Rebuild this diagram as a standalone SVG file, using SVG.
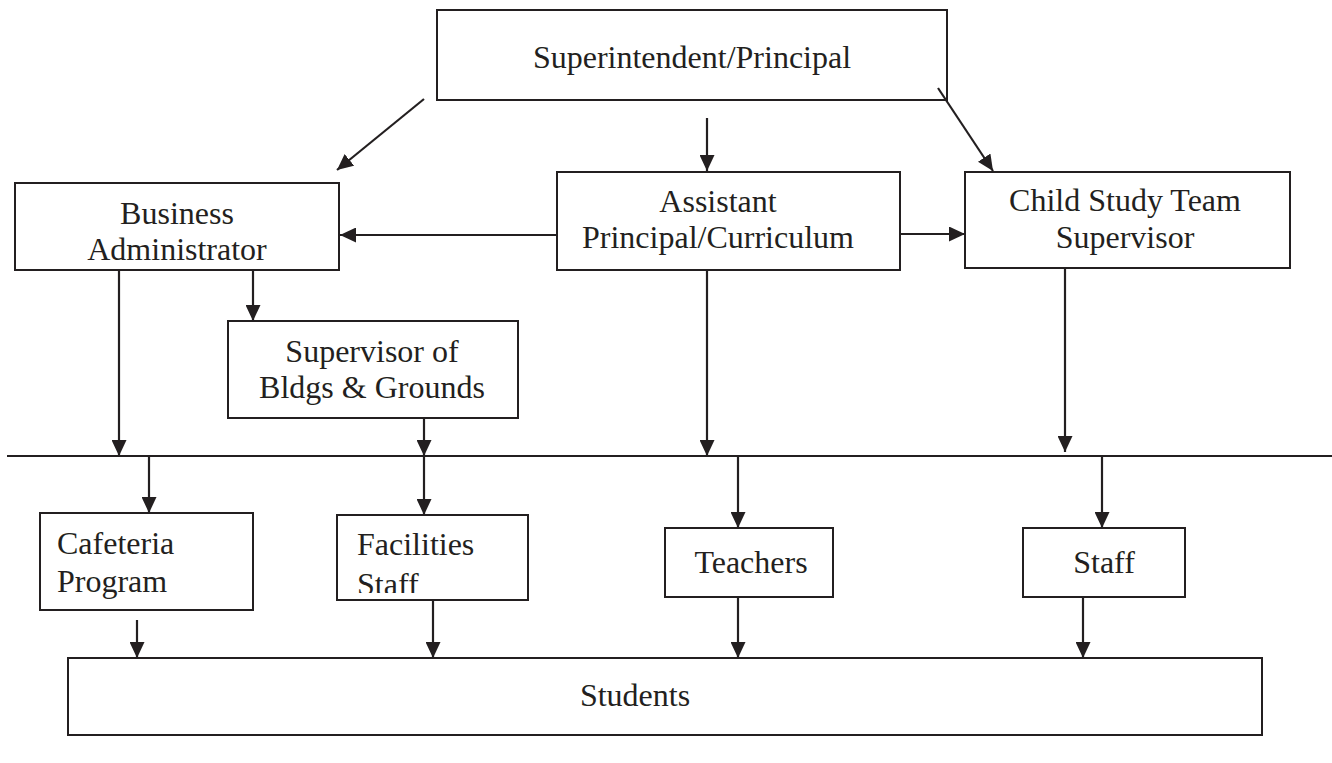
<svg xmlns="http://www.w3.org/2000/svg" width="1332" height="763" viewBox="0 0 1332 763">
<style>
.box{fill:#fff;stroke:#231f20;stroke-width:2}
.t{font-family:"Liberation Serif","Times New Roman",serif;font-size:32px;fill:#231f20}
.c{text-anchor:middle}
.ln{stroke:#231f20;stroke-width:2.2;fill:none}
.ar{marker-end:url(#ah)}
</style>
<defs>
<marker id="ah" markerUnits="userSpaceOnUse" markerWidth="17" markerHeight="15" refX="16" refY="7.5" orient="auto">
<path d="M0,0 L16,7.5 L0,15 z" fill="#231f20"/>
</marker>
<clipPath id="facclip"><rect x="338" y="516" width="189" height="77"/></clipPath>
</defs>
<rect width="1332" height="763" fill="#fff"/>
<g id="superintendent">
<rect class="box" x="437" y="10" width="510" height="90"/>
<text class="t c" x="692" y="68">Superintendent/Principal</text>
</g>
<g id="business">
<rect class="box" x="15" y="183" width="324" height="87"/>
<text class="t c" x="177" y="224">Business</text>
<text class="t c" x="177" y="260">Administrator</text>
</g>
<g id="assistant">
<rect class="box" x="557" y="172" width="343" height="98"/>
<text class="t c" x="718" y="212">Assistant</text>
<text class="t c" x="718" y="248">Principal/Curriculum</text>
</g>
<g id="childstudy">
<rect class="box" x="965" y="172" width="325" height="96"/>
<text class="t c" x="1125" y="211">Child Study Team</text>
<text class="t c" x="1125" y="248">Supervisor</text>
</g>
<g id="bldgs">
<rect class="box" x="228" y="321" width="290" height="97"/>
<text class="t c" x="372" y="362">Supervisor of</text>
<text class="t c" x="372" y="398">Bldgs &amp; Grounds</text>
</g>
<g id="cafeteria">
<rect class="box" x="40" y="513" width="213" height="97"/>
<text class="t" x="57" y="554">Cafeteria</text>
<text class="t" x="57" y="592">Program</text>
</g>
<g id="facilities">
<rect class="box" x="337" y="515" width="191" height="85"/>
<g clip-path="url(#facclip)">
<text class="t" x="357" y="555">Facilities</text>
<text class="t" x="357" y="595">Staff</text>
</g>
</g>
<g id="teachers">
<rect class="box" x="665" y="528" width="168" height="69"/>
<text class="t c" x="751" y="573">Teachers</text>
</g>
<g id="staff">
<rect class="box" x="1023" y="528" width="162" height="69"/>
<text class="t c" x="1104" y="573">Staff</text>
</g>
<g id="students">
<rect class="box" x="68" y="658" width="1194" height="77"/>
<text class="t c" x="635" y="706">Students</text>
</g>
<g id="connectors">
<line class="ln ar" x1="424" y1="99" x2="337" y2="170"/>
<line class="ln ar" x1="707" y1="118" x2="707" y2="171"/>
<line class="ln ar" x1="938" y1="88" x2="993" y2="171"/>
<line class="ln ar" x1="557" y1="235" x2="340" y2="235"/>
<line class="ln ar" x1="900" y1="234" x2="965" y2="234"/>
<line class="ln ar" x1="119" y1="270" x2="119" y2="456"/>
<line class="ln ar" x1="253" y1="270" x2="253" y2="321"/>
<line class="ln ar" x1="424" y1="418" x2="424" y2="456"/>
<line class="ln ar" x1="707" y1="270" x2="707" y2="456"/>
<line class="ln ar" x1="1065" y1="268" x2="1065" y2="452"/>
<line class="ln" x1="7" y1="456" x2="1332" y2="456"/>
<line class="ln ar" x1="149" y1="456" x2="149" y2="513"/>
<line class="ln ar" x1="424" y1="456" x2="424" y2="515"/>
<line class="ln ar" x1="738" y1="456" x2="738" y2="528"/>
<line class="ln ar" x1="1102" y1="456" x2="1102" y2="528"/>
<line class="ln ar" x1="137" y1="620" x2="137" y2="658"/>
<line class="ln ar" x1="433" y1="600" x2="433" y2="658"/>
<line class="ln ar" x1="738" y1="597" x2="738" y2="658"/>
<line class="ln ar" x1="1083" y1="597" x2="1083" y2="658"/>
</g>
</svg>
